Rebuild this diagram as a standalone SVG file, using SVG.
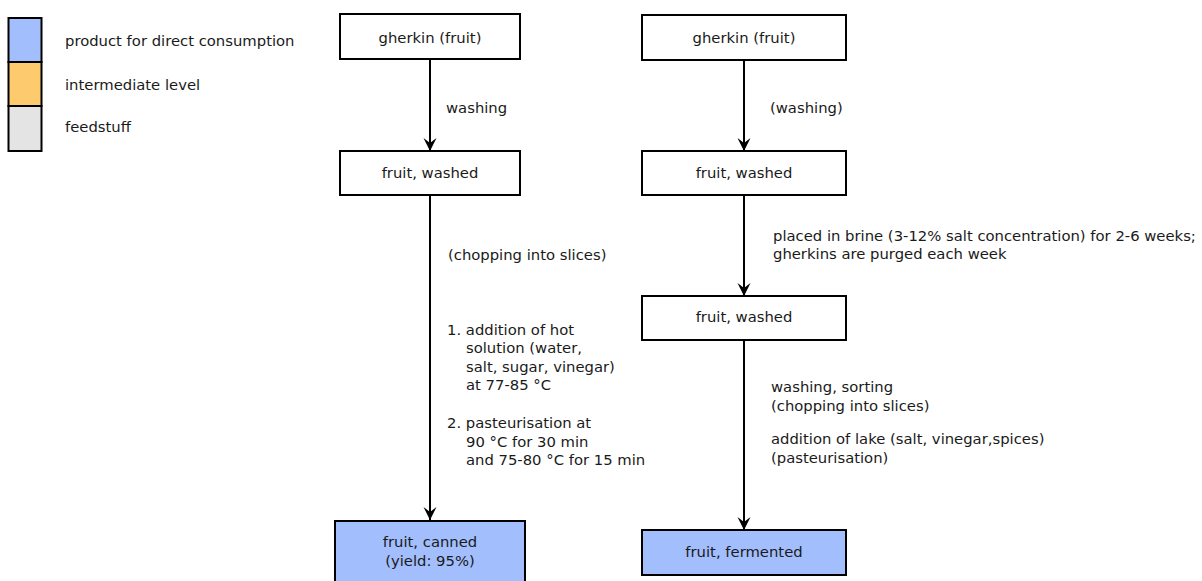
<svg xmlns="http://www.w3.org/2000/svg" width="1202" height="581" viewBox="0 0 1202 581">
  <style>
    text { font-family: "DejaVu Sans", "Liberation Sans", sans-serif; font-size: 14.8px; fill: #1a1a1a; }
    .box { fill: #ffffff; stroke: #000000; stroke-width: 2; }
    .prod { fill: #a3befd; stroke: #000000; stroke-width: 2; }
    .c { text-anchor: middle; }
    .edge { stroke: #000000; stroke-width: 2; fill: none; marker-end: url(#arrow); }
  </style>
  <defs>
    <marker id="arrow" viewBox="0 0 14 14" refX="7" refY="14" markerWidth="14" markerHeight="14" markerUnits="userSpaceOnUse" orient="0">
      <path d="M0.5,1 L7,14 L13.5,1 L7,6 Z" fill="#000000"/>
    </marker>
  </defs>

  <rect width="1202" height="581" fill="#ffffff"/>

  <!-- legend -->
  <g id="legend">
    <rect x="8.5" y="18" width="33" height="44" fill="#a3befd" stroke="#000" stroke-width="2"/>
    <rect x="8.5" y="62" width="33" height="44" fill="#fdca6e" stroke="#000" stroke-width="2"/>
    <rect x="8.5" y="106" width="33" height="45" fill="#e4e4e4" stroke="#000" stroke-width="2"/>
    <text x="65" y="46">product for direct consumption</text>
    <text x="65" y="90">intermediate level</text>
    <text x="65" y="132">feedstuff</text>
  </g>

  <!-- connectors -->
  <g id="connectors">
    <line class="edge" x1="430" y1="60" x2="430" y2="151"/>
    <line class="edge" x1="430" y1="196" x2="430" y2="520"/>
    <line class="edge" x1="744" y1="61" x2="744" y2="151"/>
    <line class="edge" x1="744" y1="196" x2="744" y2="296"/>
    <line class="edge" x1="744" y1="341" x2="744" y2="530"/>
  </g>

  <!-- edge labels -->
  <g id="labels">
    <text x="446" y="113">washing</text>
    <text x="448" y="260">(chopping into slices)</text>
    <text x="447" y="335">1. addition of hot</text>
    <text x="466" y="353">solution (water,</text>
    <text x="466" y="372">salt, sugar, vinegar)</text>
    <text x="466" y="390">at 77-85 °C</text>
    <text x="447" y="428">2. pasteurisation at</text>
    <text x="466" y="447">90 °C for 30 min</text>
    <text x="466" y="465">and 75-80 °C for 15 min</text>

    <text x="770" y="113">(washing)</text>
    <text x="773" y="241">placed in brine (3-12% salt concentration) for 2-6 weeks;</text>
    <text x="773" y="259">gherkins are purged each week</text>
    <text x="771" y="392">washing, sorting</text>
    <text x="771" y="411">(chopping into slices)</text>
    <text x="771" y="444">addition of lake (salt, vinegar,spices)</text>
    <text x="771" y="463">(pasteurisation)</text>
  </g>

  <!-- left chain: canned -->
  <g id="gherkin-left">
    <rect class="box" x="340" y="14" width="180" height="45"/>
    <text class="c" x="430" y="43">gherkin (fruit)</text>
  </g>
  <g id="washed-left">
    <rect class="box" x="340" y="151" width="180" height="44"/>
    <text class="c" x="430" y="178">fruit, washed</text>
  </g>
  <g id="canned">
    <rect class="prod" x="335" y="521" width="190" height="70"/>
    <text class="c" x="430" y="547">fruit, canned</text>
    <text class="c" x="430" y="566">(yield: 95%)</text>
  </g>

  <!-- right chain: fermented -->
  <g id="gherkin-right">
    <rect class="box" x="642" y="15" width="204" height="45"/>
    <text class="c" x="744" y="43">gherkin (fruit)</text>
  </g>
  <g id="washed-right-1">
    <rect class="box" x="642" y="151" width="204" height="44"/>
    <text class="c" x="744" y="178">fruit, washed</text>
  </g>
  <g id="washed-right-2">
    <rect class="box" x="642" y="296" width="204" height="44"/>
    <text class="c" x="744" y="322">fruit, washed</text>
  </g>
  <g id="fermented">
    <rect class="prod" x="642" y="530" width="204" height="45"/>
    <text class="c" x="744" y="557">fruit, fermented</text>
  </g>
</svg>
